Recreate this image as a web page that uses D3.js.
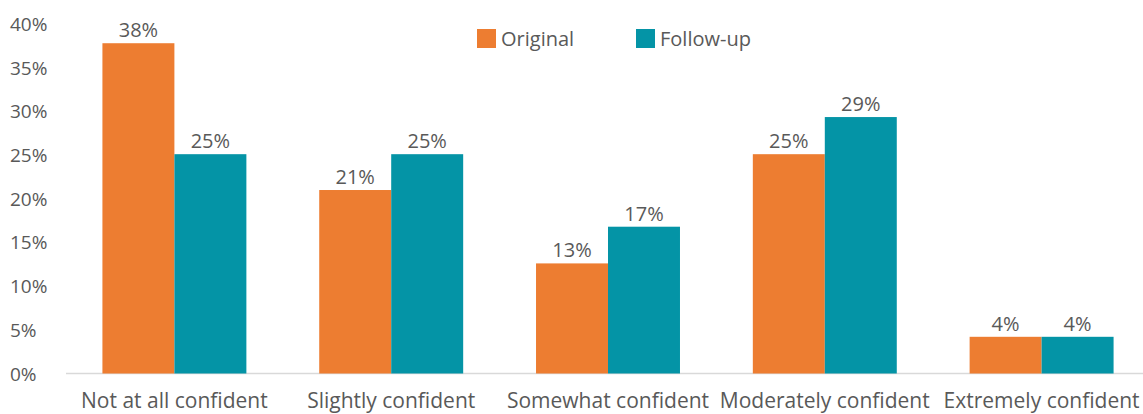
<!DOCTYPE html>
<html>
<head>
<meta charset="utf-8">
<script src="https://cdn.jsdelivr.net/npm/d3@7"></script>
<style>
  html, body { margin: 0; padding: 0; background: #fff; }
  svg { display: block; font-family: "Open Sans", sans-serif; }
</style>
</head>
<body>
<div id="chart"></div>
<script>
const categories = ["Not at all confident", "Slightly confident", "Somewhat confident", "Moderately confident", "Extremely confident"];
const seriesNames = ["Original", "Follow-up"];
const originalValues = [37.8, 21.0, 12.6, 25.1, 4.2];
const followupValues = [25.1, 25.1, 16.8, 29.35, 4.2];
const originalLabels = ["38%", "21%", "13%", "25%", "4%"];
const followupLabels = ["25%", "25%", "17%", "29%", "4%"];
const yTicks = [0, 5, 10, 15, 20, 25, 30, 35, 40];
const colors = ["#ED7D31", "#0494A6"];

const W = 1143, H = 414;
const svg = d3.select("#chart").append("svg").attr("width", W).attr("height", H);

const x0 = d3.scaleBand().domain(categories).range([66, 1150]).paddingInner(0.336).paddingOuter(0.168);
const x1 = d3.scaleBand().domain(seriesNames).range([0, x0.bandwidth()]).padding(0);
const y = d3.scaleLinear().domain([0, 40]).range([373.5, 24]);

const textColor = "#595959";

// y tick labels
svg.append("g").selectAll("text").data(yTicks).join("text")
  .attr("x", 10).attr("y", d => y(d) + 7)
  .attr("font-size", 19).attr("fill", textColor)
  .text(d => d + "%");

// baseline axis
svg.append("line").attr("x1", 66).attr("x2", W).attr("y1", y(0)).attr("y2", y(0))
  .attr("stroke", "#D9D9D9").attr("stroke-width", 1.5);

const data = categories.map((c, i) => ({
  cat: c,
  vals: [
    { s: seriesNames[0], v: originalValues[i], lab: originalLabels[i], col: colors[0] },
    { s: seriesNames[1], v: followupValues[i], lab: followupLabels[i], col: colors[1] }
  ]
}));

const groups = svg.append("g").selectAll("g").data(data).join("g")
  .attr("transform", d => `translate(${x0(d.cat)},0)`);

groups.selectAll("rect").data(d => d.vals).join("rect")
  .attr("x", d => x1(d.s)).attr("width", x1.bandwidth())
  .attr("y", d => y(d.v)).attr("height", d => y(0) - y(d.v))
  .attr("fill", d => d.col);

groups.selectAll("text").data(d => d.vals).join("text")
  .attr("x", d => x1(d.s) + x1.bandwidth() / 2)
  .attr("y", d => y(d.v) - 6)
  .attr("text-anchor", "middle").attr("font-size", 20).attr("fill", textColor)
  .text(d => d.lab);

// category labels
svg.append("g").selectAll("text").data(categories).join("text")
  .attr("x", d => x0(d) + x0.bandwidth() / 2).attr("y", 408)
  .attr("text-anchor", "middle").attr("font-size", 21).attr("fill", textColor)
  .text(d => d);

// legend
const legendX = [477, 636];
const lg = svg.append("g").selectAll("g").data(seriesNames).join("g")
  .attr("transform", (d, i) => `translate(${legendX[i]},29)`);
lg.append("rect").attr("width", 19).attr("height", 19).attr("fill", (d, i) => colors[i]);
lg.append("text").attr("x", 24).attr("y", 17).attr("font-size", 20).attr("fill", textColor).text(d => d);
</script>
</body>
</html>
